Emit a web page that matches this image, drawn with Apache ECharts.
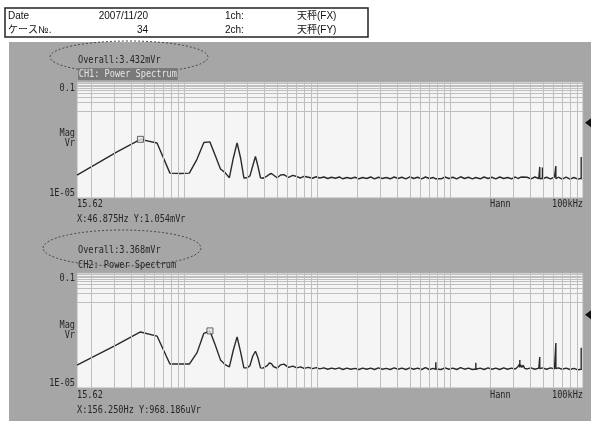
<!DOCTYPE html>
<html>
<head>
<meta charset="utf-8">
<script src="https://cdn.jsdelivr.net/npm/echarts@6/dist/echarts.min.js"></script>
<style>
  html, body { margin: 0; padding: 0; background: #ffffff; }
  #chart { width: 591px; height: 421px; }
</style>
</head>
<body>
<div id="chart"></div>
<script>
// FFT line resolution and the spectrum bins that are plotted
const binWidthHz = 15.625;
const binIndex = [
  1, 2, 3, 4, 5, 6, 7, 8, 9, 10, 11, 12, 13, 14, 15, 16, 17, 18, 19, 20,
  21, 22, 23, 24, 25, 26, 27, 28, 29, 30, 32, 34, 36, 39, 42, 45, 48, 51, 55, 59,
  63, 67, 72, 77, 82, 88, 94, 100, 107, 115, 123, 132, 141, 151, 162, 173, 185, 198, 212, 227,
  243, 260, 278, 298, 319, 341, 365, 391, 418, 447, 478, 499, 500, 501, 512, 548, 586, 627, 671, 718,
  768, 822, 880, 942, 999, 1000, 1001, 1079, 1154, 1235, 1321, 1414, 1513, 1619, 1732, 1853, 1983, 2080, 2120, 2142,
  2143, 2144, 2170, 2220, 2270, 2330, 2430, 2600, 2782, 2976, 3026, 3027, 3028, 3169, 3170, 3171, 3408, 3646, 3901, 3999,
  4000, 4001, 4174, 4466, 4779, 5113, 5471, 5854, 6199, 6200, 6201, 6260
];

// CH1 (天秤 FX) power spectrum magnitude, Vr
const ch1Vr = [
  6.2e-5, 3.9e-4, 1.054e-3, 7.9e-4, 7.2e-5, 7.0e-5, 7.2e-5, 2.2e-4, 8.2e-4, 8.6e-4, 2.8e-4, 1.0e-4, 7.5e-5, 5.0e-5, 2.4e-4, 8.0e-4, 2.4e-4, 4.9e-5, 5.0e-5, 5.8e-5,
  1.3e-4, 2.7e-4, 1.2e-4, 5.0e-5, 4.8e-5, 5.2e-5, 5.8e-5, 6.6e-5, 7.0e-5, 6.2e-5, 5.0e-5, 6.2e-5, 6.4e-5, 5.1e-5, 6.0e-5, 5.5e-5, 4.9e-5, 5.6e-5, 5.2e-5, 4.8e-5,
  5.4e-5, 4.9e-5, 5.3e-5, 4.7e-5, 5.2e-5, 4.8e-5, 5.3e-5, 4.6e-5, 5.1e-5, 4.7e-5, 5.2e-5, 4.6e-5, 5.1e-5, 4.7e-5, 5.3e-5, 4.6e-5, 5.2e-5, 4.7e-5, 5.1e-5, 4.6e-5,
  5.3e-5, 4.7e-5, 5.2e-5, 4.6e-5, 5.4e-5, 4.7e-5, 5.2e-5, 4.6e-5, 5.3e-5, 4.7e-5, 5.1e-5, 4.6e-5, 5.0e-5, 4.7e-5, 5.2e-5, 4.6e-5, 5.3e-5, 4.7e-5, 5.2e-5, 4.6e-5,
  5.4e-5, 4.7e-5, 5.2e-5, 4.6e-5, 5.1e-5, 4.8e-5, 5.2e-5, 4.6e-5, 5.3e-5, 4.7e-5, 5.2e-5, 4.6e-5, 5.3e-5, 4.7e-5, 5.1e-5, 4.6e-5, 5.3e-5, 4.7e-5, 5.2e-5, 4.6e-5,
  5.1e-5, 4.7e-5, 5.2e-5, 4.6e-5, 5.3e-5, 4.7e-5, 5.2e-5, 4.6e-5, 5.3e-5, 4.7e-5, 4.8e-5, 1.18e-4, 4.6e-5, 4.8e-5, 1.12e-4, 4.6e-5, 5.2e-5, 4.6e-5, 5.3e-5, 4.7e-5,
  1.27e-4, 4.6e-5, 5.2e-5, 4.5e-5, 5.2e-5, 4.5e-5, 5.1e-5, 4.5e-5, 4.8e-5, 2.6e-4, 4.5e-5, 4.8e-5
];

// CH2 (天秤 FY) power spectrum magnitude, Vr
const ch2Vr = [
  6.3e-5, 3.2e-4, 8.9e-4, 6.4e-4, 6.8e-5, 6.8e-5, 6.8e-5, 1.7e-4, 8.0e-4, 9.68186e-4, 3.0e-4, 9.5e-5, 6.5e-5, 5.4e-5, 2.1e-4, 6.0e-4, 1.8e-4, 5.0e-5, 5.0e-5, 6.0e-5,
  1.3e-4, 1.9e-4, 1.1e-4, 5.0e-5, 4.9e-5, 5.4e-5, 6.0e-5, 7.4e-5, 7.0e-5, 5.6e-5, 4.9e-5, 6.4e-5, 6.8e-5, 5.2e-5, 5.8e-5, 5.0e-5, 5.4e-5, 4.8e-5, 5.2e-5, 4.7e-5,
  5.1e-5, 4.6e-5, 5.0e-5, 4.5e-5, 4.9e-5, 4.6e-5, 5.0e-5, 4.4e-5, 4.9e-5, 4.5e-5, 4.8e-5, 4.4e-5, 4.9e-5, 4.5e-5, 4.9e-5, 4.4e-5, 5.0e-5, 4.5e-5, 4.8e-5, 4.4e-5,
  5.0e-5, 4.5e-5, 4.9e-5, 4.4e-5, 5.0e-5, 4.5e-5, 4.9e-5, 4.4e-5, 5.1e-5, 4.4e-5, 4.8e-5, 4.5e-5, 7.9e-5, 4.6e-5, 4.9e-5, 4.4e-5, 5.0e-5, 4.5e-5, 4.9e-5, 4.4e-5,
  5.1e-5, 4.5e-5, 4.9e-5, 4.4e-5, 4.6e-5, 7.5e-5, 4.5e-5, 4.9e-5, 4.4e-5, 5.0e-5, 4.5e-5, 4.9e-5, 4.4e-5, 5.0e-5, 4.5e-5, 4.9e-5, 4.6e-5, 5.6e-5, 6.6e-5, 5.2e-5,
  9.4e-5, 5.4e-5, 6.4e-5, 5.2e-5, 6.2e-5, 4.8e-5, 4.6e-5, 5.0e-5, 4.5e-5, 4.9e-5, 4.6e-5, 1.2e-4, 4.7e-5, 5.0e-5, 4.6e-5, 4.9e-5, 4.5e-5, 5.0e-5, 4.6e-5, 4.8e-5,
  3.7e-4, 4.7e-5, 5.0e-5, 4.5e-5, 4.9e-5, 4.4e-5, 4.8e-5, 4.3e-5, 4.5e-5, 2.5e-4, 4.4e-5, 4.6e-5
];

// Cursor readouts [Hz, Vr] and reference-level markers (Vr)
const ch1Cursor = [46.875, 0.001054];
const ch2Cursor = [156.25, 0.000968186];
const ch1RefLevel = 0.0039;
const ch2RefLevel = 0.0035;

// Axis ranges and log grid
const freqRange = [15.625, 100000];
const magRange = [1e-5, 0.1];
const freqDecades = [10, 100, 1000, 10000];
const magDecades = [1e-5, 1e-4, 1e-3, 1e-2];
const minorSteps = [1, 2, 3, 4, 5, 6, 7, 8, 9];

function logGrid(decades, range) {
  const out = [];
  decades.forEach(d => minorSteps.forEach(m => {
    const v = +(d * m).toPrecision(6);
    if (v > range[0] * 1.0001 && v < range[1] * 0.9999) out.push(v);
  }));
  return out;
}
const freqGrid = logGrid(freqDecades, freqRange);
const magGrid = logGrid(magDecades, magRange);

const chart = echarts.init(document.getElementById('chart'), null, { renderer: 'canvas' });

const MONO = '"DejaVu Sans Mono", "Liberation Mono", monospace';
const SANS = '"Liberation Sans", "Noto Sans CJK JP", sans-serif';

function monoText(x, y, text, extra) {
  return {
    type: 'text', x: x, y: y, scaleX: 0.78,
    style: Object.assign({
      text: text, fill: '#262626', font: '11px ' + MONO,
      align: 'left', verticalAlign: 'middle'
    }, extra || {})
  };
}
function headText(x, y, text, align) {
  return {
    type: 'text', x: x, y: y,
    style: { text: text, fill: '#111', font: '10px ' + SANS, align: align || 'left', verticalAlign: 'middle' }
  };
}

function panelGraphics(p) {
  return [
    {
      type: 'ellipse', shape: { cx: p.ell[0], cy: p.ell[1], rx: p.ell[2], ry: p.ell[3] },
      style: { fill: 'none', stroke: '#4a4a4a', lineWidth: 1, lineDash: [2, 2] }
    },
    monoText(78, p.overallY, p.overall),
    monoText(78, p.titleY, p.title, p.titleStyle || {}),
    monoText(75, p.topY, '0.1', { align: 'right' }),
    monoText(75, p.magY, 'Mag', { align: 'right' }),
    monoText(75, p.magY + 10, 'Vr', { align: 'right' }),
    monoText(75, p.botY, '1E-05', { align: 'right' }),
    monoText(77, p.axisY, '15.62'),
    monoText(490, p.axisY, 'Hann'),
    monoText(583, p.axisY, '100kHz', { align: 'right' }),
    monoText(77, p.cursorY, p.cursor)
  ];
}

function panelSeries(idx, values, cursor, refLevel) {
  return [
    {
      type: 'line', xAxisIndex: idx, yAxisIndex: idx, data: [], silent: true, z: 1,
      markLine: {
        silent: true, symbol: ['none', 'none'], label: { show: false }, animation: false,
        lineStyle: { color: '#bfbfbf', width: 1, type: 'solid' },
        emphasis: { disabled: true },
        data: freqGrid.map(v => ({ xAxis: v })).concat(magGrid.map(v => ({ yAxis: v })))
      }
    },
    {
      type: 'line', xAxisIndex: idx, yAxisIndex: idx, z: 3,
      data: binIndex.map((k, i) => [k * binWidthHz, values[i]]),
      symbol: 'none', showSymbol: false, smooth: false,
      lineStyle: { color: '#2a2a2a', width: 1.4 },
      markPoint: {
        animation: false, silent: true,
        data: [{
          coord: [freqRange[1], refLevel], symbol: 'path://M0,5L8,0L8,10Z',
          symbolSize: [6, 9], symbolOffset: [5, 0], itemStyle: { color: '#111' }, label: { show: false }
        }]
      }
    },
    {
      type: 'scatter', xAxisIndex: idx, yAxisIndex: idx, z: 4, data: [cursor],
      symbol: 'rect', symbolSize: 6,
      itemStyle: { color: '#e8e8e8', borderColor: '#444', borderWidth: 1 }
    }
  ];
}

function xAxisFor(idx) {
  return {
    gridIndex: idx, type: 'log', logBase: 10, min: freqRange[0], max: freqRange[1],
    axisLine: { show: false }, axisTick: { show: false }, axisLabel: { show: false }, splitLine: { show: false }
  };
}
function yAxisFor(idx) {
  return {
    gridIndex: idx, type: 'log', logBase: 10, min: magRange[0], max: magRange[1],
    axisLine: { show: false }, axisTick: { show: false }, axisLabel: { show: false }, splitLine: { show: false }
  };
}

const option = {
  animation: false,
  backgroundColor: '#a6a6a6',
  grid: [
    { left: 77, top: 82, width: 506, height: 116, show: true, backgroundColor: '#f5f5f5', borderColor: '#b0b0b0', borderWidth: 1 },
    { left: 77, top: 273, width: 506, height: 115, show: true, backgroundColor: '#f5f5f5', borderColor: '#b0b0b0', borderWidth: 1 }
  ],
  xAxis: [xAxisFor(0), xAxisFor(1)],
  yAxis: [yAxisFor(0), yAxisFor(1)],
  series: panelSeries(0, ch1Vr, ch1Cursor, ch1RefLevel).concat(panelSeries(1, ch2Vr, ch2Cursor, ch2RefLevel)),
  graphic: [
    // white page area around the analyzer screen
    { type: 'rect', shape: { x: 0, y: 0, width: 591, height: 42 }, style: { fill: '#ffffff' } },
    { type: 'rect', shape: { x: 0, y: 0, width: 9, height: 421 }, style: { fill: '#ffffff' } },
    // measurement header
    { type: 'rect', shape: { x: 5, y: 8, width: 363, height: 29 }, style: { fill: 'none', stroke: '#222', lineWidth: 1.5 } },
    headText(8, 16, 'Date'),
    headText(148, 16, '2007/11/20', 'right'),
    headText(225, 16, '1ch:'),
    headText(297, 16, '天秤(FX)'),
    headText(8, 30, 'ケース№.'),
    headText(148, 30, '34', 'right'),
    headText(225, 30, '2ch:'),
    headText(297, 30, '天秤(FY)')
  ].concat(panelGraphics({
    ell: [129, 57, 79, 16], overall: 'Overall:3.432mVr', overallY: 60,
    title: 'CH1: Power Spectrum', titleY: 74,
    titleStyle: { fill: '#e4e4e4', backgroundColor: '#7a7a7a', padding: [1, 1, 0, 1] },
    topY: 88, magY: 133, botY: 193, axisY: 204, cursor: 'X:46.875Hz Y:1.054mVr', cursorY: 219
  })).concat(panelGraphics({
    ell: [122, 248, 79, 18], overall: 'Overall:3.368mVr', overallY: 250,
    title: 'CH2: Power Spectrum', titleY: 265,
    topY: 278, magY: 325, botY: 383, axisY: 395, cursor: 'X:156.250Hz Y:968.186uVr', cursorY: 410
  }))
};

chart.setOption(option);
</script>
</body>
</html>
